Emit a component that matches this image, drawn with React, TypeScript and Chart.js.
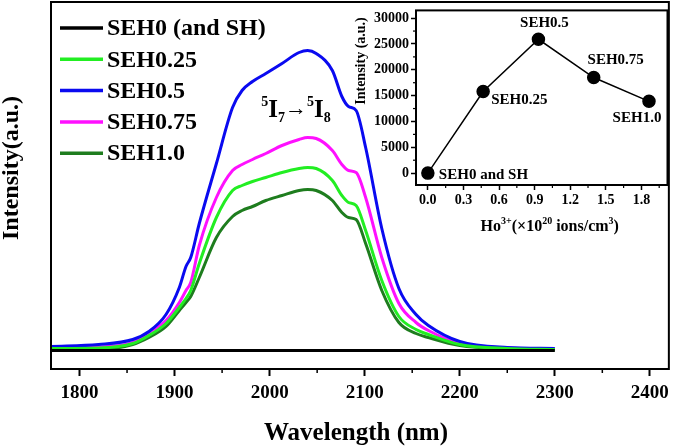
import React, { useEffect, useRef } from 'react';
import { Chart, registerables } from 'chart.js';
Chart.register(...registerables);

// ---------- Main spectrum data ----------
const wavelengths = [1770, 1820, 1856, 1873, 1891, 1905, 1912, 1917, 1926, 1944, 1961, 1971, 1982, 1996, 2013, 2031, 2040, 2049, 2066, 2076, 2083, 2091, 2101, 2118, 2136, 2154, 2167, 2200, 2250, 2300];
const seh0Wavelengths = [1770, 2300];
const seh0Values = [0, 0];
const seh025Values = [2, 2.5, 7, 15, 27, 43, 52, 60, 87, 133, 160, 165, 169, 173, 178, 182, 183, 182, 170, 155, 148, 145, 120, 70, 34, 21, 16, 6, 2, 1];
const seh05Values = [4, 6, 11, 19, 36, 63, 84, 93, 127, 187, 243, 260, 269, 277, 287, 298, 300, 297, 280, 254, 244, 240, 203, 122, 62, 36, 25, 9, 3, 2];
const seh075Values = [3, 3.5, 8, 18, 30, 48, 60, 68, 105, 153, 180, 186, 191, 197, 205, 211, 213, 212, 200, 186, 180, 178, 153, 93, 47, 28, 20, 7, 2.5, 1.5];
const seh10Values = [0.5, 1, 6, 13, 24, 40, 48, 54, 73, 113, 134, 140, 144, 150, 155, 160, 161, 160, 150, 138, 133, 131, 107, 60, 28, 17, 13, 5, 1.5, 0.5];
const seriesLabels = ['SEH0 (and SH)', 'SEH0.25', 'SEH0.5', 'SEH0.75', 'SEH1.0'];
const mainMajorTicks = [1800, 1900, 2000, 2100, 2200, 2300, 2400];
const mainMinorTicks = [1850, 1950, 2050, 2150, 2250, 2350];

// ---------- Inset data ----------
const concentrations = [0, 0.466, 0.932, 1.398, 1.864];
const insetIntensity = [0, 15800, 25900, 18500, 13900];
const insetLabels = ['SEH0 and SH', 'SEH0.25', 'SEH0.5', 'SEH0.75', 'SEH1.0'];
const insetXTicks = [0, 0.3, 0.6, 0.9, 1.2, 1.5, 1.8];
const insetXMinor = [0.15, 0.45, 0.75, 1.05, 1.35, 1.65, 1.95];
const insetYTicks = [0, 5000, 10000, 15000, 20000, 25000, 30000];
const insetYMinor = [2500, 7500, 12500, 17500, 22500, 27500];

const FONT = "'Liberation Serif', 'Times New Roman', serif";
const COLORS = ['#000000', '#22ee22', '#0a0af0', '#ff10ff', '#1e7d1e'];
// label placement (dx, dy, align) for inset annotations
const insetLabelPos: [number, number, CanvasTextAlign][] = [
  [11, 2, 'left'], [8, 9, 'left'], [6, -16, 'center'], [22, -17, 'center'], [-12, 17, 'center'],
];

type Seg = { t: string; size: number; dy: number };
function drawRich(ctx: CanvasRenderingContext2D, x: number, y: number, segs: Seg[], align: 'left' | 'center') {
  let total = 0;
  for (const s of segs) { ctx.font = `bold ${s.size}px ${FONT}`; total += ctx.measureText(s.t).width; }
  let cx = align === 'center' ? x - total / 2 : x;
  ctx.textAlign = 'left';
  ctx.textBaseline = 'alphabetic';
  for (const s of segs) {
    ctx.font = `bold ${s.size}px ${FONT}`;
    ctx.fillText(s.t, cx, y + s.dy);
    cx += ctx.measureText(s.t).width;
  }
}

const mainDecor = {
  id: 'mainDecor',
  afterDraw(chart: any) {
    const { ctx, chartArea: a, scales } = chart;
    ctx.save();
    ctx.strokeStyle = '#000';
    ctx.fillStyle = '#000';
    ctx.lineWidth = 2;
    ctx.strokeRect(a.left, a.top, a.right - a.left, a.bottom - a.top);
    ctx.lineWidth = 1.5;
    for (const v of mainMinorTicks) {
      const px = scales.x.getPixelForValue(v);
      ctx.beginPath(); ctx.moveTo(px, a.bottom); ctx.lineTo(px, a.bottom + 4); ctx.stroke();
    }
    // legend
    chart.data.datasets.forEach((ds: any, i: number) => {
      const y = 28 + i * 31.3;
      ctx.strokeStyle = ds.borderColor;
      ctx.lineWidth = 3.5;
      ctx.beginPath(); ctx.moveTo(60, y); ctx.lineTo(103, y); ctx.stroke();
      ctx.fillStyle = '#000';
      ctx.font = `bold 24px ${FONT}`;
      ctx.textAlign = 'left';
      ctx.textBaseline = 'middle';
      ctx.fillText(ds.label, 107, y + 1);
    });
    // transition annotation
    ctx.fillStyle = '#000';
    drawRich(ctx, 296, 117, [
      { t: '5', size: 14, dy: -11 }, { t: 'I', size: 25, dy: 0 }, { t: '7', size: 14, dy: 5 },
      { t: '\u2192', size: 22, dy: -2 },
      { t: '5', size: 14, dy: -11 }, { t: 'I', size: 25, dy: 0 }, { t: '8', size: 14, dy: 5 },
    ], 'center');
    // y title
    ctx.save();
    ctx.translate(12, 168);
    ctx.rotate(-Math.PI / 2);
    ctx.font = `bold 24px ${FONT}`;
    ctx.textAlign = 'center';
    ctx.textBaseline = 'middle';
    ctx.fillText('Intensity(a.u.)', 0, 0);
    ctx.restore();
    // x title
    ctx.font = `bold 25px ${FONT}`;
    ctx.textAlign = 'center';
    ctx.textBaseline = 'middle';
    ctx.fillText('Wavelength (nm)', 356, 434);
    ctx.restore();
  },
};

const insetDecor = {
  id: 'insetDecor',
  afterDraw(chart: any) {
    const { ctx, chartArea: a, scales } = chart;
    ctx.save();
    ctx.strokeStyle = '#000';
    ctx.fillStyle = '#000';
    ctx.lineWidth = 2;
    ctx.strokeRect(a.left, a.top, a.right - a.left, a.bottom - a.top);
    ctx.lineWidth = 1.2;
    for (const v of insetXMinor) {
      const px = scales.x.getPixelForValue(v);
      ctx.beginPath(); ctx.moveTo(px, a.bottom); ctx.lineTo(px, a.bottom + 3); ctx.stroke();
    }
    for (const v of insetYMinor) {
      const py = scales.y.getPixelForValue(v);
      ctx.beginPath(); ctx.moveTo(a.left, py); ctx.lineTo(a.left - 3, py); ctx.stroke();
    }
    // point labels
    ctx.font = `bold 15px ${FONT}`;
    ctx.textBaseline = 'middle';
    concentrations.forEach((c, i) => {
      const px = scales.x.getPixelForValue(c);
      const py = scales.y.getPixelForValue(insetIntensity[i]);
      const [dx, dy, al] = insetLabelPos[i];
      ctx.textAlign = al;
      ctx.fillText(insetLabels[i], px + dx, py + dy);
    });
    // y title
    ctx.save();
    ctx.translate(13, 61);
    ctx.rotate(-Math.PI / 2);
    ctx.font = `bold 14px ${FONT}`;
    ctx.textAlign = 'center';
    ctx.textBaseline = 'middle';
    ctx.fillText('Intensity (a.u.)', 0, 0);
    ctx.restore();
    // x title
    drawRich(ctx, (a.left + a.right) / 2 + 8, 231, [
      { t: 'Ho', size: 16, dy: 0 }, { t: '3+', size: 10, dy: -7 },
      { t: '(\u00d710', size: 16, dy: 0 }, { t: '20', size: 10, dy: -7 },
      { t: ' ions/cm', size: 16, dy: 0 }, { t: '3', size: 10, dy: -7 }, { t: ')', size: 16, dy: 0 },
    ], 'center');
    ctx.restore();
  },
};

export default function App() {
  const mainRef = useRef<HTMLCanvasElement>(null);
  const insetRef = useRef<HTMLCanvasElement>(null);

  useEffect(() => {
    const spectra = [seh025Values, seh05Values, seh075Values, seh10Values];
    const datasets: any[] = [
      {
        label: seriesLabels[0],
        data: seh0Wavelengths.map((w, i) => ({ x: w, y: seh0Values[i] })),
        borderColor: COLORS[0], borderWidth: 3,
      },
      ...spectra.map((vals, k) => ({
        label: seriesLabels[k + 1],
        data: wavelengths.map((w, i) => ({ x: w, y: vals[i] })),
        borderColor: COLORS[k + 1], borderWidth: 3,
      })),
    ];
    const main = new Chart(mainRef.current!, {
      type: 'line',
      data: { datasets },
      options: {
        animation: false,
        responsive: false,
        maintainAspectRatio: false,
        layout: { padding: { top: 2, right: 5, left: 0, bottom: 0 } },
        plugins: { legend: { display: false }, tooltip: { enabled: false } },
        elements: { point: { radius: 0 }, line: { tension: 0.4, cubicInterpolationMode: 'monotone' } },
        scales: {
          x: {
            type: 'linear', min: 1770, max: 2420,
            afterFit: (s: any) => { s.height = 79; },
            afterBuildTicks: (s: any) => { s.ticks = mainMajorTicks.map((v) => ({ value: v })); },
            ticks: { color: '#000', font: { family: FONT, size: 19, weight: 'bold' }, padding: 6, maxRotation: 0, autoSkip: false, callback: (v: any) => String(v) },
            grid: { drawOnChartArea: false, tickLength: 7, tickWidth: 2, color: '#000' },
            border: { display: false },
          },
          y: {
            min: -18.5, max: 348.5,
            afterFit: (s: any) => { s.width = 51; },
            ticks: { display: false },
            grid: { display: false },
            border: { display: false },
          },
        },
      } as any,
      plugins: [mainDecor],
    });

    const inset = new Chart(insetRef.current!, {
      type: 'line',
      data: {
        datasets: [{
          label: 'Intensity',
          data: concentrations.map((c, i) => ({ x: c, y: insetIntensity[i] })),
          borderColor: '#000', borderWidth: 1.5,
          pointRadius: 6, pointBackgroundColor: '#000', pointBorderColor: '#000',
          tension: 0,
        }],
      },
      options: {
        animation: false,
        responsive: false,
        maintainAspectRatio: false,
        layout: { padding: { top: 2, right: 5, left: 0, bottom: 0 } },
        plugins: { legend: { display: false }, tooltip: { enabled: false } },
        scales: {
          x: {
            type: 'linear', min: -0.1, max: 2.02,
            afterFit: (s: any) => { s.height = 55; },
            afterBuildTicks: (s: any) => { s.ticks = insetXTicks.map((v) => ({ value: v })); },
            ticks: { color: '#000', font: { family: FONT, size: 14, weight: 'bold' }, padding: 2, maxRotation: 0, autoSkip: false, callback: (v: any) => Number(v).toFixed(1) },
            grid: { drawOnChartArea: false, tickLength: 5, tickWidth: 1.5, color: '#000' },
            border: { display: false },
          },
          y: {
            min: -2300, max: 31500,
            afterFit: (s: any) => { s.width = 68; },
            afterBuildTicks: (s: any) => { s.ticks = insetYTicks.map((v) => ({ value: v })); },
            ticks: { color: '#000', font: { family: FONT, size: 14, weight: 'bold' }, padding: 2, autoSkip: false, callback: (v: any) => String(v) },
            grid: { drawOnChartArea: false, tickLength: 5, tickWidth: 1.5, color: '#000' },
            border: { display: false },
          },
        },
      } as any,
      plugins: [insetDecor],
    });

    return () => { main.destroy(); inset.destroy(); };
  }, []);

  return (
    <div style={{ position: 'absolute', left: 0, top: 0, width: 675, height: 448, background: '#fff' }}>
      <canvas ref={mainRef} width={675} height={448} style={{ position: 'absolute', left: 0, top: 0 }} />
      <canvas ref={insetRef} width={327} height={240} style={{ position: 'absolute', left: 348, top: 0 }} />
    </div>
  );
}
